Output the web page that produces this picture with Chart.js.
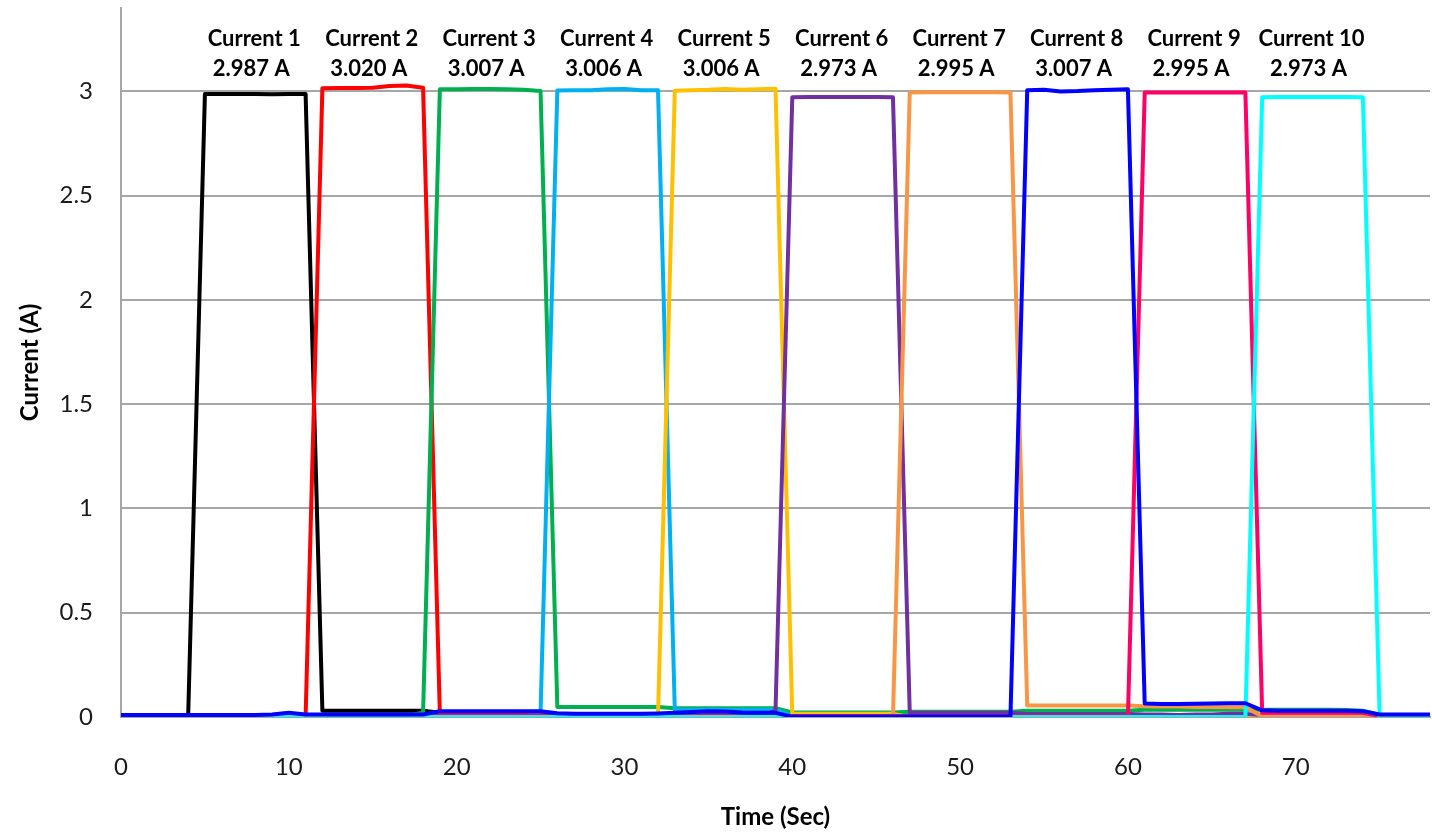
<!DOCTYPE html>
<html>
<head>
<meta charset="utf-8">
<script src="https://cdn.jsdelivr.net/npm/chart.js@4.4.1/dist/chart.umd.min.js"></script>
<style>
  html, body { margin: 0; padding: 0; background: #fff; }
  #wrap { width: 1432px; height: 836px; }
</style>
</head>
<body>
<div id="wrap"><canvas id="chart" width="1432" height="836"></canvas></div>
<script>
// ================= Data =================
const timeSec = [
  0, 1, 2, 3, 4, 5, 6, 7, 8, 9,
  10, 11, 12, 13, 14, 15, 16, 17, 18, 19,
  20, 21, 22, 23, 24, 25, 26, 27, 28, 29,
  30, 31, 32, 33, 34, 35, 36, 37, 38, 39,
  40, 41, 42, 43, 44, 45, 46, 47, 48, 49,
  50, 51, 52, 53, 54, 55, 56, 57, 58, 59,
  60, 61, 62, 63, 64, 65, 66, 67, 68, 69,
  70, 71, 72, 73, 74, 75, 76, 77, 78
];

// one row per 7-second slot (first row 0-4, last row 75-78)
const current1 = [
  0, 0, 0, 0, 0,
  2.987, 2.988, 2.987, 2.987, 2.986, 2.987, 2.987,
  0.03, 0.03, 0.03, 0.03, 0.03, 0.03, 0.03,
  0.02, 0.02, 0.02, 0.02, 0.02, 0.02, 0.02,
  0.01, 0.01, 0.01, 0.01, 0.01, 0.01, 0.01,
  0.01, 0.01, 0.01, 0.01, 0.01, 0.01, 0.01,
  0.005, 0.005, 0.005, 0.005, 0.005, 0.005, 0.005,
  0.005, 0.005, 0.005, 0.005, 0.005, 0.005, 0.005,
  0.005, 0.005, 0.005, 0.005, 0.005, 0.005, 0.005,
  0.005, 0.005, 0.005, 0.005, 0.005, 0.005, 0.005,
  0.005, 0.005, 0.005, 0.005, 0.005, 0.005, 0.005,
  0.005, 0.005, 0.005, 0.005
];
const current2 = [
  0, 0, 0, 0, 0,
  0, 0, 0, 0, 0, 0.002, 0.003,
  3.015, 3.016, 3.016, 3.018, 3.026, 3.028, 3.018,
  0.015, 0.015, 0.015, 0.015, 0.015, 0.015, 0.015,
  0.01, 0.01, 0.01, 0.01, 0.01, 0.01, 0.01,
  0.012, 0.012, 0.013, 0.014, 0.012, 0.01, 0.01,
  0.003, 0.003, 0.003, 0.003, 0.003, 0.003, 0.003,
  0.003, 0.003, 0.003, 0.003, 0.003, 0.003, 0.003,
  0.003, 0.003, 0.003, 0.003, 0.003, 0.003, 0.003,
  0.003, 0.003, 0.003, 0.003, 0.003, 0.003, 0.003,
  0.003, 0.003, 0.003, 0.003, 0.003, 0.003, 0.003,
  0.003, 0.003, 0.003, 0.003
];
const current3 = [
  0.005, 0.005, 0.005, 0.005, 0.005,
  0.005, 0.005, 0.005, 0.005, 0.005, 0.005, 0.005,
  0.005, 0.005, 0.005, 0.005, 0.005, 0.005, 0.02,
  3.010, 3.010, 3.011, 3.011, 3.010, 3.008, 3.002,
  0.048, 0.048, 0.048, 0.048, 0.048, 0.048, 0.048,
  0.042, 0.042, 0.042, 0.042, 0.042, 0.042, 0.042,
  0.022, 0.022, 0.022, 0.022, 0.022, 0.022, 0.022,
  0.025, 0.025, 0.025, 0.025, 0.025, 0.025, 0.025,
  0.03, 0.03, 0.03, 0.03, 0.03, 0.03, 0.03,
  0.035, 0.035, 0.035, 0.035, 0.035, 0.035, 0.035,
  0.035, 0.035, 0.035, 0.035, 0.035, 0.033, 0.03,
  0.01, 0.01, 0.01, 0.01
];
const current4 = [
  0.003, 0.003, 0.003, 0.003, 0.003,
  0.003, 0.003, 0.003, 0.003, 0.003, 0.003, 0.003,
  0.003, 0.003, 0.003, 0.003, 0.003, 0.003, 0.003,
  0.003, 0.003, 0.003, 0.003, 0.003, 0.003, 0.02,
  3.004, 3.005, 3.006, 3.010, 3.012, 3.006, 3.005,
  0.035, 0.035, 0.035, 0.035, 0.035, 0.035, 0.035,
  0.005, 0.005, 0.005, 0.005, 0.005, 0.005, 0.005,
  0.005, 0.005, 0.005, 0.005, 0.005, 0.005, 0.005,
  0.005, 0.005, 0.005, 0.005, 0.005, 0.005, 0.005,
  0.005, 0.005, 0.005, 0.005, 0.005, 0.005, 0.005,
  0.005, 0.005, 0.005, 0.005, 0.005, 0.005, 0.005,
  0.005, 0.005, 0.005, 0.005
];
const current5 = [
  0.002, 0.002, 0.002, 0.002, 0.002,
  0.002, 0.002, 0.002, 0.002, 0.002, 0.002, 0.002,
  0.002, 0.002, 0.002, 0.002, 0.002, 0.002, 0.002,
  0.002, 0.002, 0.002, 0.002, 0.002, 0.002, 0.002,
  0.002, 0.002, 0.002, 0.002, 0.002, 0.002, 0.01,
  3.003, 3.006, 3.008, 3.012, 3.008, 3.010, 3.013,
  0.015, 0.015, 0.015, 0.015, 0.015, 0.015, 0.015,
  0, 0, 0, 0, 0, 0, 0,
  0, 0, 0, 0, 0, 0, 0,
  0, 0, 0, 0, 0, 0, 0,
  0, 0, 0, 0, 0, 0, 0,
  0, 0, 0, 0
];
const current6 = [
  0.003, 0.003, 0.003, 0.003, 0.003,
  0.003, 0.003, 0.003, 0.003, 0.003, 0.003, 0.003,
  0.003, 0.003, 0.003, 0.003, 0.003, 0.003, 0.003,
  0.003, 0.003, 0.003, 0.003, 0.003, 0.003, 0.003,
  0.003, 0.003, 0.003, 0.003, 0.003, 0.003, 0.003,
  0.003, 0.003, 0.003, 0.003, 0.003, 0.003, 0.03,
  2.972, 2.973, 2.973, 2.973, 2.973, 2.973, 2.972,
  0.02, 0.02, 0.02, 0.02, 0.02, 0.02, 0.02,
  0.014, 0.014, 0.014, 0.014, 0.014, 0.014, 0.014,
  0.012, 0.012, 0.01, 0.012, 0.012, 0.015, 0.015,
  0.01, 0.01, 0.01, 0.01, 0.01, 0.01, 0.01,
  0.005, 0.005, 0.005, 0.005
];
const current7 = [
  0.002, 0.002, 0.002, 0.002, 0.002,
  0.002, 0.002, 0.002, 0.002, 0.002, 0.002, 0.002,
  0.002, 0.002, 0.002, 0.002, 0.002, 0.002, 0.002,
  0.002, 0.002, 0.002, 0.002, 0.002, 0.002, 0.002,
  0.002, 0.002, 0.002, 0.002, 0.002, 0.002, 0.002,
  0.002, 0.002, 0.002, 0.002, 0.002, 0.002, 0.002,
  0.002, 0.002, 0.002, 0.002, 0.002, 0.002, 0.005,
  2.995, 2.996, 2.996, 2.996, 2.996, 2.996, 2.995,
  0.055, 0.055, 0.055, 0.055, 0.055, 0.055, 0.055,
  0.052, 0.05, 0.05, 0.048, 0.048, 0.047, 0.047,
  0.003, 0.003, 0.003, 0.003, 0.003, 0.003, 0.003,
  0.003, 0.003, 0.003, 0.003
];
const current8 = [
  0.01, 0.01, 0.01, 0.01, 0.01,
  0.01, 0.01, 0.01, 0.01, 0.012, 0.02, 0.012,
  0.012, 0.012, 0.012, 0.012, 0.012, 0.012, 0.012,
  0.028, 0.028, 0.028, 0.028, 0.028, 0.028, 0.028,
  0.018, 0.016, 0.015, 0.015, 0.015, 0.015, 0.017,
  0.02, 0.024, 0.028, 0.026, 0.022, 0.02, 0.02,
  0.002, 0.002, 0.002, 0.002, 0.002, 0.002, 0.002,
  0.002, 0.002, 0.002, 0.002, 0.002, 0.002, 0.002,
  3.005, 3.008, 3.000, 3.002, 3.006, 3.008, 3.010,
  0.065, 0.062, 0.062, 0.064, 0.065, 0.066, 0.066,
  0.032, 0.03, 0.03, 0.03, 0.03, 0.03, 0.028,
  0.012, 0.012, 0.012, 0.012
];
const current9 = [
  0, 0, 0, 0, 0,
  0, 0, 0, 0, 0, 0, 0,
  0.006, 0.006, 0.006, 0.006, 0.006, 0.006, 0.006,
  0.008, 0.008, 0.008, 0.008, 0.008, 0.008, 0.008,
  0.008, 0.008, 0.008, 0.008, 0.008, 0.008, 0.008,
  0.01, 0.01, 0.012, 0.012, 0.01, 0.008, 0.006,
  0.003, 0.003, 0.003, 0.003, 0.003, 0.003, 0.003,
  0.003, 0.003, 0.003, 0.003, 0.003, 0.003, 0.003,
  0.003, 0.003, 0.003, 0.003, 0.003, 0.003, 0.003,
  2.995, 2.995, 2.995, 2.995, 2.995, 2.995, 2.995,
  0.02, 0.02, 0.02, 0.02, 0.02, 0.02, 0.02,
  0.005, 0.005, 0.005, 0.005
];
const current10 = [
  0, 0, 0, 0, 0,
  0, 0, 0, 0, 0, 0, 0,
  0, 0, 0, 0, 0, 0, 0,
  0, 0, 0, 0, 0, 0, 0,
  0, 0, 0, 0, 0, 0, 0,
  0, 0, 0, 0, 0, 0, 0,
  0, 0, 0, 0, 0, 0, 0,
  0, 0, 0, 0, 0, 0, 0,
  0, 0, 0, 0, 0, 0, 0,
  0, 0, 0, 0, 0, 0, 0,
  2.972, 2.973, 2.973, 2.973, 2.973, 2.973, 2.972,
  0, 0, 0, 0
];

const seriesNames = ['Current 1', 'Current 2', 'Current 3', 'Current 4', 'Current 5',
                     'Current 6', 'Current 7', 'Current 8', 'Current 9', 'Current 10'];
const peakLabels = ['2.987 A', '3.020 A', '3.007 A', '3.006 A', '3.006 A',
                    '2.973 A', '2.995 A', '3.007 A', '2.995 A', '2.973 A'];
const seriesValues = [current1, current2, current3, current4, current5,
                      current6, current7, current8, current9, current10];
const seriesColors = ['#000000', '#ff0000', '#00b050', '#00b0f0', '#ffc000',
                      '#7030a0', '#f79646', '#0000ff', '#ff0066', '#00ffff'];

const yTicks = [0, 0.5, 1, 1.5, 2, 2.5, 3];
const xTicks = [0, 10, 20, 30, 40, 50, 60, 70];

// ================= Helpers =================
const FONT = 'Lato, "Noto Sans", Arial, sans-serif';
const GRID = '#a6a6a6';

function toPoints(values) {
    return values.map((v, i) => ({ x: timeSec[i], y: v }));
}

function pulseCenter(values) {
    const hi = timeSec.filter((t, i) => values[i] > 1);
    return hi.reduce((a, b) => a + b, 0) / hi.length;
}

// labels above each pulse
const pulseLabelPlugin = {
    id: 'pulseLabels',
    afterDatasetsDraw(chart) {
        const { ctx, chartArea, scales } = chart;
        ctx.save();
        ctx.fillStyle = '#000';
        ctx.font = 'bold 22px ' + FONT;
        ctx.textAlign = 'center';
        ctx.textBaseline = 'middle';
        seriesValues.forEach((vals, i) => {
            const px = scales.x.getPixelForValue(pulseCenter(vals));
            ctx.fillText(seriesNames[i], px - 1, chartArea.top + 31);
            ctx.fillText(peakLabels[i], px - 4, chartArea.top + 61);
        });
        ctx.restore();
    }
};

// ================= Chart =================
const datasets = seriesValues.map((vals, i) => ({
    label: seriesNames[i],
    data: toPoints(vals),
    borderColor: seriesColors[i],
    backgroundColor: seriesColors[i],
    borderWidth: 4,
    pointRadius: 0,
    tension: 0,
    borderJoinStyle: 'round',
    fill: false,
    order: i === 7 ? 0 : 10 - i
}));

new Chart(document.getElementById('chart').getContext('2d'), {
    type: 'line',
    data: { datasets },
    options: {
        responsive: false,
        animation: false,
        layout: { padding: { top: 8, right: 2, left: 0, bottom: 0 } },
        plugins: {
            legend: { display: false },
            tooltip: { enabled: false }
        },
        scales: {
            x: {
                type: 'linear',
                min: 0,
                max: 78,
                afterBuildTicks: s => { s.ticks = xTicks.map(v => ({ value: v })); },
                afterFit: s => { s.height = 119; s.paddingLeft = 0; s.paddingRight = 0; },
                grid: { display: false, drawTicks: false },
                border: { display: true, color: GRID, width: 2 },
                ticks: {
                    padding: 36,
                    color: '#1a1a1a',
                    font: { family: FONT, size: 24 },
                    maxRotation: 0,
                    callback: v => String(v)
                },
                title: {
                    display: true,
                    text: 'Time (Sec)',
                    color: '#000',
                    font: { family: FONT, size: 24, weight: 'bold' },
                    padding: { top: 0, bottom: 4 }
                }
            },
            y: {
                min: 0,
                max: 3.4,
                afterBuildTicks: s => { s.ticks = yTicks.map(v => ({ value: v })); },
                afterFit: s => { s.width = 121; s.paddingTop = 0; s.paddingBottom = 0; },
                grid: { color: GRID, lineWidth: 2, drawTicks: false },
                border: { display: true, color: GRID, width: 2 },
                ticks: {
                    padding: 28,
                    color: '#1a1a1a',
                    font: { family: FONT, size: 24 },
                    callback: v => String(v)
                },
                title: {
                    display: true,
                    text: 'Current (A)',
                    color: '#000',
                    font: { family: FONT, size: 24, weight: 'bold' },
                    padding: { top: 16, bottom: 0 }
                }
            }
        }
    },
    plugins: [pulseLabelPlugin]
});
</script>
</body>
</html>
